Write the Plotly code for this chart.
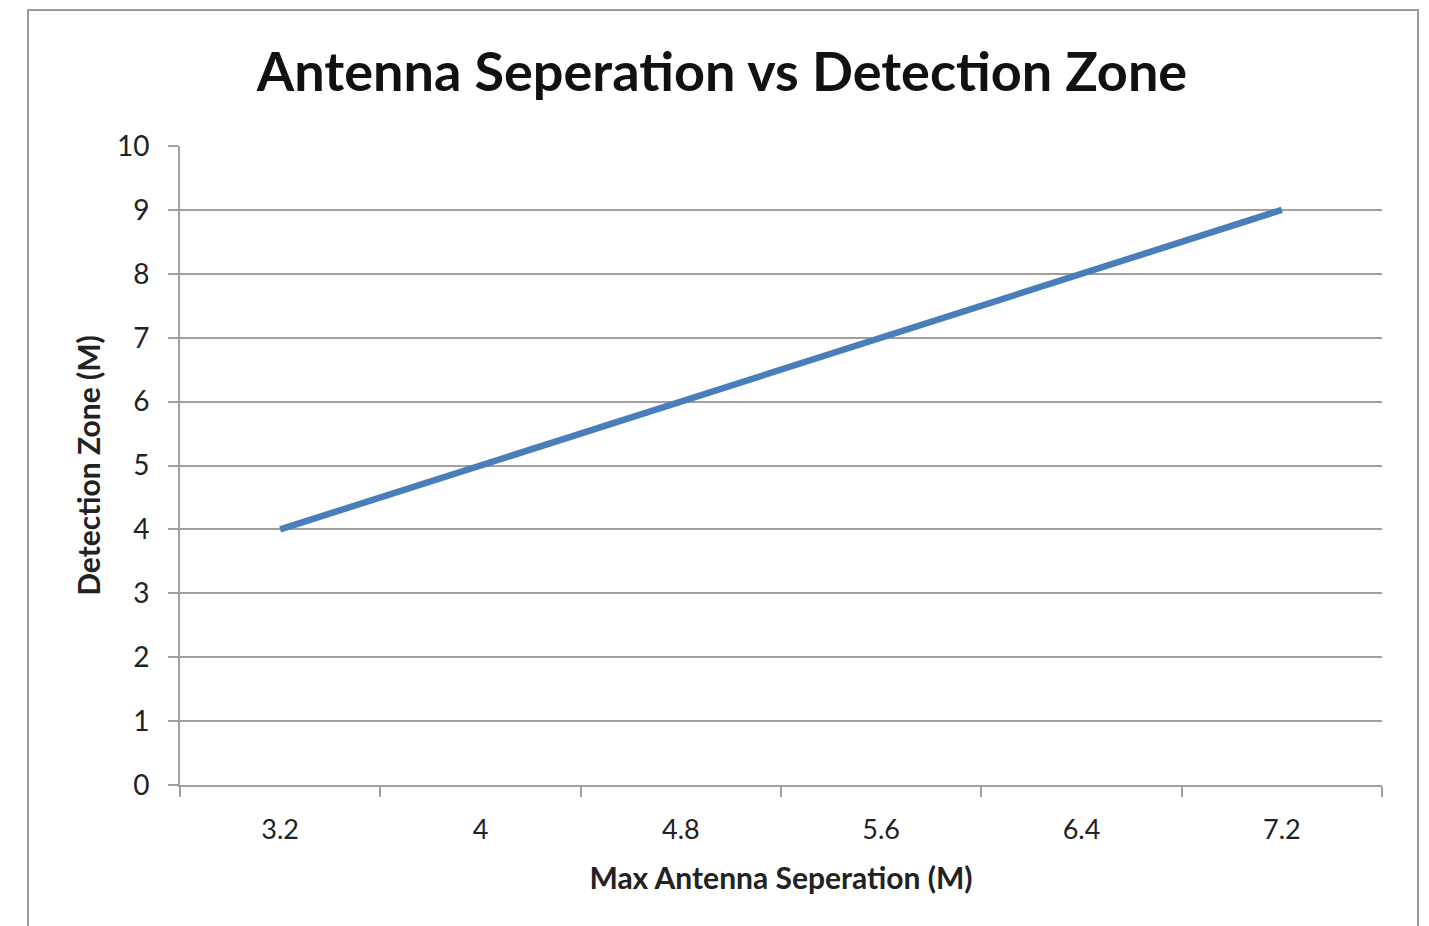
import plotly.graph_objects as go

categories = ["3.2", "4", "4.8", "5.6", "6.4", "7.2"]
detection_zone = [4, 5, 6, 7, 8, 9]
y_ticks = [0, 1, 2, 3, 4, 5, 6, 7, 8, 9, 10]

W, H = 1429, 926
L, R, T, B = 180, 1382, 146, 785
pw, ph = R - L, B - T

def px_x(x):
    return (x - L) / pw

def px_y(y):
    return (B - y) / ph

fig = go.Figure()
fig.add_trace(go.Scatter(
    x=categories, y=detection_zone, mode="lines",
    line=dict(color="#4A7EBB", width=6.5),
    showlegend=False, hoverinfo="skip"))

grid = "#A0A0A0"
fig.update_layout(
    width=W, height=H,
    margin=dict(l=L, r=W - R, t=T, b=H - B),
    paper_bgcolor="white", plot_bgcolor="white",
    font=dict(family="Lato", color="#222222"),
    title=dict(text="<b>Antenna Seperation vs Detection Zone</b>",
               x=px_x(722), xref="paper", xanchor="center",
               y=1 - 72 / H, yanchor="middle",
               font=dict(family="Lato", size=54, color="#111111")),
    xaxis=dict(type="category", range=[-0.5, 5.5], tickson="boundaries",
               showgrid=False, showline=True, linecolor=grid, linewidth=2,
               ticks="outside", ticklen=10, tickwidth=2, tickcolor=grid,
               tickfont=dict(size=27, color="#222222"), ticklabelstandoff=20,
               title=dict(text="<b>Max Antenna Seperation (M)</b>",
                          font=dict(size=30, color="#222222"), standoff=24),
               zeroline=False, fixedrange=True),
    yaxis=dict(range=[0, 10], tickvals=y_ticks,
               showgrid=True, gridcolor=grid, gridwidth=2,
               showline=True, linecolor=grid, linewidth=2,
               ticks="outside", ticklen=10, tickwidth=2, tickcolor=grid,
               tickfont=dict(size=28, color="#222222"), ticklabelstandoff=13,
               title=dict(text="<b>Detection Zone (M)</b>",
                          font=dict(size=30, color="#222222"), standoff=7),
               zeroline=False, fixedrange=True),
)

fig.add_shape(type="rect", xref="paper", yref="paper",
              x0=px_x(28), x1=px_x(1418), y0=px_y(940), y1=px_y(10),
              line=dict(color="#9A9A9A", width=2), fillcolor="rgba(0,0,0,0)",
              layer="below")

fig.write_html("out.html", config={"displayModeBar": False},
               post_script="document.body.style.margin='0';document.body.style.padding='0';")
